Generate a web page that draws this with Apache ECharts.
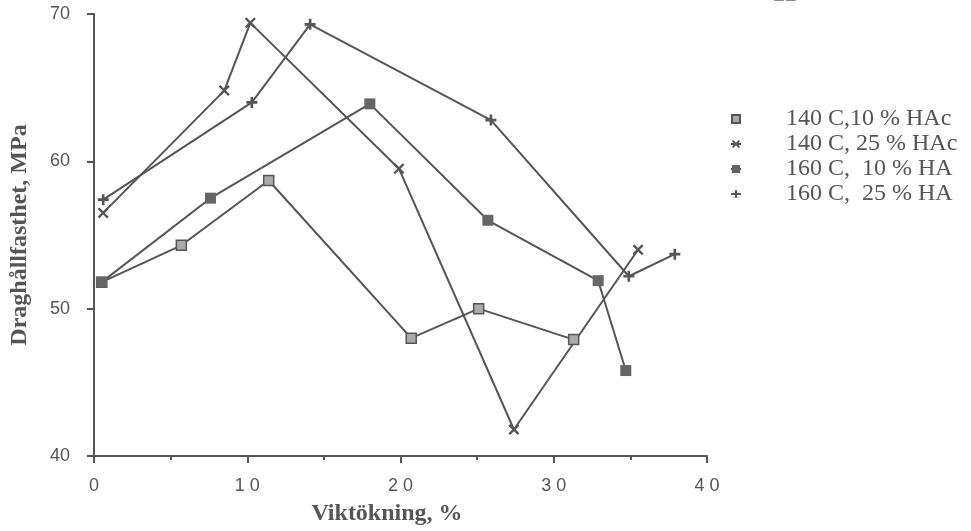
<!DOCTYPE html>
<html>
<head>
<meta charset="utf-8">
<script src="https://cdn.jsdelivr.net/npm/echarts@6/dist/echarts.min.js"></script>
<style>html,body{margin:0;padding:0;background:#fff}#c{width:971px;height:531px}</style>
</head>
<body>
<div id="c"></div>
<script>
var seriesNames = ['140 C,10 % HAc', '140 C, 25 % HAc', '160 C,  10 % HA', '160 C,  25 % HA'];
var s1 = [[0.5, 51.8], [5.7, 54.3], [11.4, 58.7], [20.7, 48.0], [25.1, 50.0], [31.3, 47.9]];
var s2 = [[0.6, 56.5], [8.5, 64.8], [10.2, 69.4], [19.9, 59.5], [27.4, 41.8], [35.5, 54.0]];
var s3 = [[0.5, 51.8], [7.6, 57.5], [18.0, 63.9], [25.7, 56.0], [32.9, 51.9], [34.7, 45.8]];
var s4 = [[0.6, 57.4], [10.3, 64.0], [14.1, 69.3], [25.9, 62.8], [34.9, 52.2], [37.9, 53.7]];
var xName = 'Viktökning, %';
var yName = 'Draghållfasthet, MPa';

var lineColor = '#555';
var symX = 'path://M1.5,0L5,3.5L8.5,0L10,1.5L6.5,5L10,8.5L8.5,10L5,6.5L1.5,10L0,8.5L3.5,5L0,1.5Z';
var symPlus = 'path://M3.8,0H6.2V3.8H10V6.2H6.2V10H3.8V6.2H0V3.8H3.8Z';

function mk(name, data, symbol, size, itemStyle) {
  return {
    name: name, type: 'line', data: data, symbol: symbol, symbolSize: size,
    lineStyle: {color: lineColor, width: 2},
    itemStyle: itemStyle, z: 3
  };
}

var chart = echarts.init(document.getElementById('c'));
chart.setOption({
  backgroundColor: '#ffffff',
  animation: false,
  grid: {left: 92, right: 264, top: 14, bottom: 72},
  xAxis: {
    type: 'value', min: 0, max: 40, interval: 10,
    name: xName, nameLocation: 'middle', nameGap: 46,
    nameTextStyle: {fontFamily: 'Liberation Serif', fontWeight: 'bold', fontSize: 24, color: '#555', padding: [0, 27, 0, 0]},
    axisLine: {lineStyle: {color: '#555', width: 2}},
    axisTick: {show: true, length: 7, lineStyle: {color: '#555', width: 2}},
    minorTick: {show: true, splitNumber: 2, length: 4, lineStyle: {color: '#555', width: 2}},
    axisLabel: {fontFamily: 'Liberation Sans', fontSize: 18, color: '#555', margin: 21,
      formatter: function (v) { return String(v).split('').join(' '); }},
    splitLine: {show: false}
  },
  yAxis: {
    type: 'value', min: 40, max: 70, interval: 10,
    name: yName, nameLocation: 'middle', nameGap: 62,
    nameTextStyle: {fontFamily: 'Liberation Serif', fontWeight: 'bold', fontSize: 24, color: '#555'},
    axisLine: {show: true, lineStyle: {color: '#555', width: 2}},
    axisTick: {show: true, length: 7, lineStyle: {color: '#555', width: 2}},
    axisLabel: {fontFamily: 'Liberation Sans', fontSize: 18, color: '#555', margin: 24},
    splitLine: {show: false}
  },
  legend: {
    orient: 'vertical', left: 725, top: 102, itemGap: 1,
    itemWidth: 10, itemHeight: 10,
    textStyle: {fontFamily: 'Liberation Serif', fontSize: 24, color: '#555', padding: [0, 0, 0, 40]},
    data: seriesNames
  },
  series: [
    mk(seriesNames[0], s1, 'rect', 10, {color: '#aaa', borderColor: lineColor, borderWidth: 1.5}),
    mk(seriesNames[1], s2, symX, 11, {color: lineColor}),
    mk(seriesNames[2], s3, 'rect', 11, {color: '#666'}),
    mk(seriesNames[3], s4, symPlus, 11, {color: lineColor})
  ],
  graphic: [{type: 'text', left: 773, top: -17, style: {text: '22', fontFamily: 'Liberation Serif', fontSize: 24, fill: '#888'}}]
});
</script>
</body>
</html>
